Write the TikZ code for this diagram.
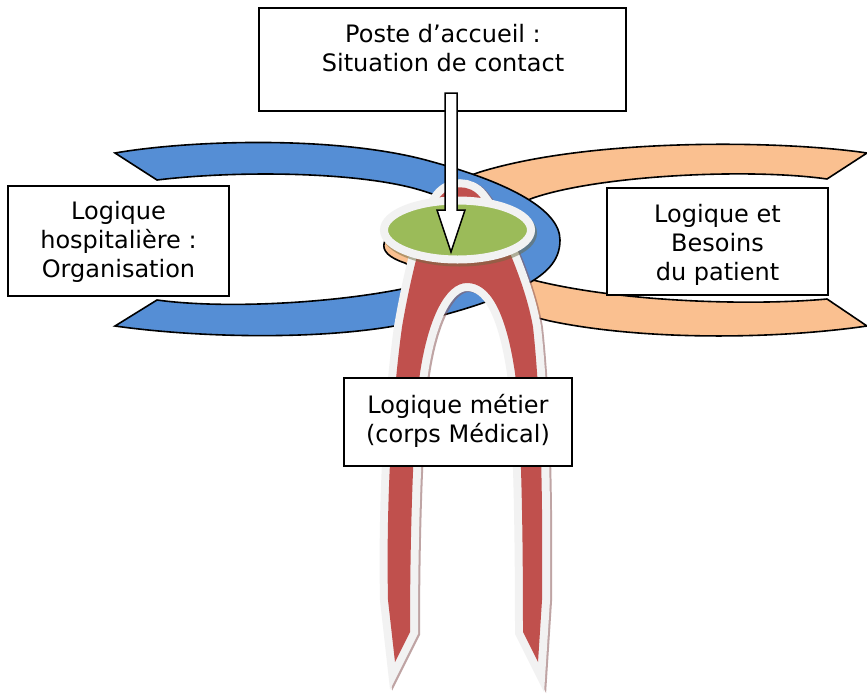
\documentclass[tikz,border=0pt]{standalone}
\usepackage{fontspec}
\setmainfont{DejaVu Sans}
\usetikzlibrary{shapes.geometric,calc}
\definecolor{bandblue}{HTML}{558ED5}
\definecolor{bandorange}{HTML}{FAC090}
\definecolor{archred}{HTML}{C0504D}
\definecolor{cupgreen}{HTML}{9BBB59}
\definecolor{rimgray}{HTML}{F2F2F2}
\definecolor{shadowbrown}{HTML}{8C5A5A}
\definecolor{shadowolive}{HTML}{6E6A40}
\def\myarchpath{(395,662) -- (388,600) .. controls (386,500) and (392,400) .. (402,327)
  .. controls (410,280) and (425,215) .. (440,197)
  .. controls (450,184) and (470,184) .. (480,197)
  .. controls (495,215) and (525,280) .. (533,327)
  .. controls (541,400) and (543,500) .. (542,600) -- (538,662) -- (523,632)
  .. controls (523,520) and (521,420) .. (515,373)
  .. controls (506,312) and (490,283) .. (467,283)
  .. controls (445,283) and (428,320) .. (420,373)
  .. controls (414,420) and (410,520) .. (410,632) -- cycle}
\begin{document}
\begin{tikzpicture}[x=1pt,y=-1pt,
  band/.style={draw=black,line width=1.6pt,line join=miter},
  boxnode/.style={draw=black,line width=2pt,fill=white,inner sep=0pt,rectangle},
  txt/.style={align=center,inner sep=0pt,font=\fontsize{24}{29}\selectfont},
  rim/.style={draw=rimgray,line width=16pt,line join=miter,miter limit=10},
]
\useasboundingbox (0,0) rectangle (867,694);
\fill[white] (0,0) rectangle (867,694);

% orange band (patient side)
\path[band,fill=bandorange] (867,153) .. controls (780,140) and (590,138) .. (480,172)
  .. controls (450,182) and (430,198) .. (412,218)
  .. controls (380,236) and (372,252) .. (405,263)
  .. controls (425,275) and (450,288) .. (470,295)
  .. controls (500,305) and (520,314) .. (550,321)
  .. controls (640,340) and (770,340) .. (867,326)
  -- (827,299)
  .. controls (750,306) and (620,302) .. (533,280)
  .. controls (490,268) and (485,215) .. (533,198)
  .. controls (600,175) and (750,168) .. (827,179) -- cycle;

% blue band (hospital side)
\path[band,fill=bandblue] (115,153) .. controls (190,140) and (340,135) .. (433,162)
  .. controls (510,183) and (560,210) .. (560,240)
  .. controls (560,262) and (545,275) .. (520,288)
  .. controls (490,302) and (450,315) .. (400,325)
  .. controls (320,340) and (200,338) .. (115,326)
  -- (157,300)
  .. controls (230,310) and (350,302) .. (420,285)
  .. controls (470,272) and (495,255) .. (495,240)
  .. controls (495,225) and (470,205) .. (420,190)
  .. controls (360,172) and (240,170) .. (157,180) -- cycle;

% red arch
\path[draw=shadowbrown,line width=16pt,line join=miter,miter limit=10,opacity=.55,shift={(2,1)}] \myarchpath;
\path[rim] \myarchpath;
\path[fill=archred] \myarchpath;

% green ellipse
\coordinate (cupc) at (457.5,230);
\draw[shadowolive,line width=8pt,opacity=.5] ($(cupc)+(2,3)$) ellipse [x radius=73.5, y radius=29.5];
\node[ellipse,draw=rimgray,line width=8pt,fill=cupgreen,minimum width=147,minimum height=59,inner sep=0pt] (cup) at (cupc) {};

% boxes
\node[boxnode,minimum width=367,minimum height=103] (topbox) at (442.5,59.5) {};
\node[txt] (toptxt) at (443,48.5) {Poste d’accueil :\\Situation de contact};
\node[boxnode,minimum width=221,minimum height=110] (leftbox) at (118.5,241) {};
\node[txt] (lefttxt) at (118.5,242) {Logique\\hospitalière :\\Organisation};
\node[boxnode,minimum width=221,minimum height=107] (rightbox) at (717.5,241.5) {};
\node[txt] (righttxt) at (717.5,245) {Logique et\\Besoins\\du patient};
\node[boxnode,minimum width=228,minimum height=88] (botbox) at (458,422) {};
\node[txt] (bottxt) at (458,421) {Logique métier\\(corps Médical)};

% block arrow from the top box into the ellipse
\coordinate (aS) at (451,93);
\coordinate (aE) at (451,252);
\draw[line width=1.5pt,fill=white,line join=miter]
  ($(aS)+(-6,0)$) -- ($(aS)+(6,0)$) -- ($(aE)+(6,-42)$) -- ($(aE)+(14,-42)$)
  -- (aE) -- ($(aE)+(-14,-42)$) -- ($(aE)+(-6,-42)$) -- cycle;
\end{tikzpicture}
\end{document}
